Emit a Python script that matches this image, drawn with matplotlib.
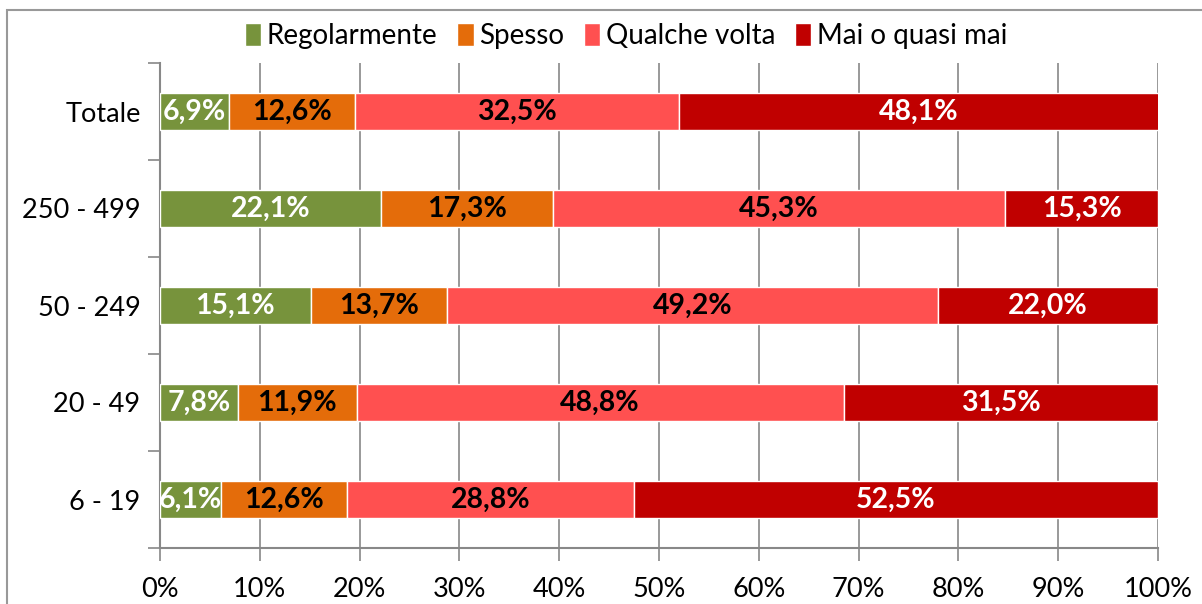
import matplotlib
matplotlib.use("Agg")
import matplotlib.pyplot as plt
from matplotlib.patches import Rectangle

# dati (percentuali per classe di addetti)
categorie = ["6 - 19", "20 - 49", "50 - 249", "250 - 499", "Totale"]
regolarmente = [6.1, 7.8, 15.1, 22.1, 6.9]
spesso = [12.6, 11.9, 13.7, 17.3, 12.6]
qualche_volta = [28.8, 48.8, 49.2, 45.3, 32.5]
mai = [52.5, 31.5, 22.0, 15.3, 48.1]
serie_nomi = ["Regolarmente", "Spesso", "Qualche volta", "Mai o quasi mai"]
tick_labels = ["0%", "10%", "20%", "30%", "40%", "50%", "60%", "70%", "80%", "90%", "100%"]

colori = ["#77933C", "#E46C0A", "#FF5050", "#C00000"]
colori_testo = ["white", "black", "black", "white"]

plt.rcParams['font.family'] = ['Lato', 'DejaVu Sans']

fig = plt.figure(figsize=(12.02, 6.04), dpi=100)
ax = fig.add_axes([160 / 1202, 1 - 548 / 604, (1158 - 160) / 1202, (548 - 63) / 604])

# cornice esterna
fig.patches.append(Rectangle((7 / 1202, -0.1), 1.2, (1 - 10 / 604) + 0.1,
                             transform=fig.transFigure, fill=False,
                             edgecolor="#999999", linewidth=1.5))

y = list(range(len(categorie)))
sinistra = [0.0] * len(categorie)
serie = [regolarmente, spesso, qualche_volta, mai]
for valori, nome, col, tcol in zip(serie, serie_nomi, colori, colori_testo):
    bars = ax.barh(y, valori, left=sinistra, height=0.39, color=col,
                   edgecolor="white", linewidth=1, label=nome, zorder=3)
    for b, v in zip(bars, valori):
        ax.text(b.get_x() + b.get_width() / 2, b.get_y() + b.get_height() / 2,
                f"{v:.1f}%".replace(".", ","), ha="center", va="center",
                color=tcol, fontsize=20.5, fontweight="bold", zorder=4)
    sinistra = [s + v for s, v in zip(sinistra, valori)]

ax.set_xlim(0, 100)
ax.set_ylim(-0.5, len(categorie) - 0.5)
ax.set_xticks(range(0, 101, 10))
ax.set_xticklabels(tick_labels, fontsize=19.5)
ax.set_yticks(y)
ax.set_yticklabels(categorie, fontsize=19.5)
ax.set_yticks([i - 0.5 for i in range(len(categorie) + 1)], minor=True)
ax.tick_params(axis="y", which="major", length=0, pad=14)
ax.tick_params(axis="y", which="minor", length=9, color="#888888", width=1.2)
ax.tick_params(axis="x", length=9, color="#888888", width=1.2, pad=12)
ax.grid(axis="x", color="#888888", linewidth=1.2, zorder=0)
for s in ["top", "right"]:
    ax.spines[s].set_visible(False)
for s in ["left", "bottom"]:
    ax.spines[s].set_color("#888888")
    ax.spines[s].set_linewidth(1.5)

ax.legend(loc="lower center", bbox_to_anchor=(0.467, 1.005), ncol=4, frameon=False,
          fontsize=20, handlelength=0.6, handleheight=0.9, handletextpad=0.2,
          columnspacing=0.7, borderaxespad=0)

fig.savefig("out.png", dpi=100)
